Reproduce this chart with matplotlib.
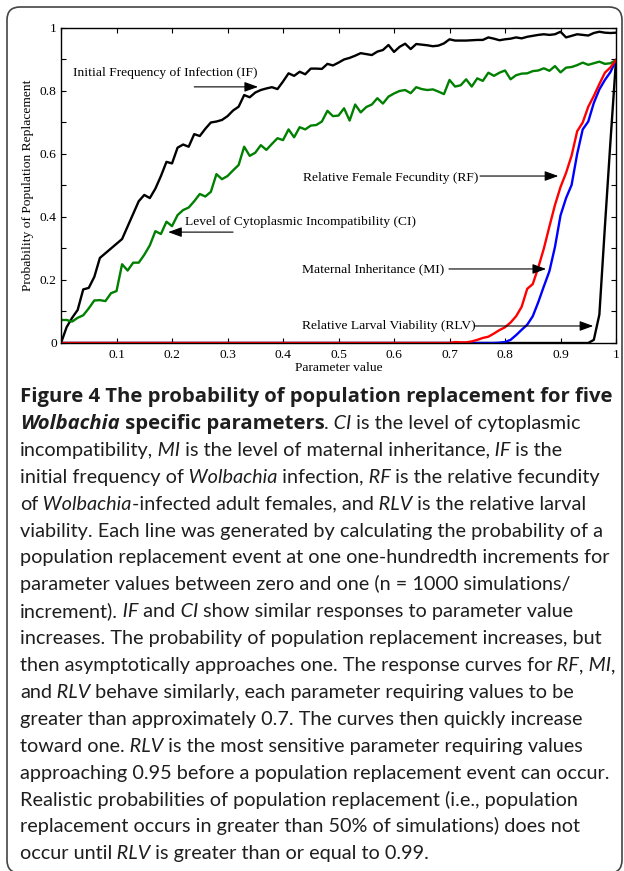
import matplotlib
matplotlib.use("Agg")
import matplotlib.pyplot as plt
from matplotlib.patches import FancyBboxPatch
from matplotlib.transforms import IdentityTransform
import numpy as np

# parameter values at one one-hundredth increments
param = np.round(np.arange(101) / 100, 2)

# Initial Frequency of Infection
if_prob = [0.00, 0.05, 0.08, 0.105, 0.17, 0.175, 0.21, 0.27, 0.285, 0.30,
           0.315, 0.33, 0.37, 0.41, 0.45, 0.47, 0.46, 0.49, 0.53, 0.575,
           0.57, 0.62, 0.63, 0.623, 0.663, 0.657, 0.68, 0.70, 0.703, 0.708,
           0.72, 0.738, 0.75, 0.787, 0.78, 0.795, 0.803, 0.808, 0.812, 0.806,
           0.83, 0.856, 0.848, 0.861, 0.853, 0.871, 0.871, 0.87, 0.886, 0.881,
           0.89, 0.90, 0.905, 0.912, 0.92, 0.917, 0.914, 0.925, 0.93, 0.946,
           0.924, 0.94, 0.95, 0.933, 0.949, 0.947, 0.945, 0.942, 0.944, 0.951,
           0.964, 0.96, 0.96, 0.96, 0.961, 0.962, 0.962, 0.97, 0.966, 0.961,
           0.964, 0.966, 0.97, 0.967, 0.972, 0.975, 0.978, 0.98, 0.978, 0.98,
           0.988, 0.97, 0.975, 0.98, 0.978, 0.976, 0.984, 0.988, 0.985, 0.984,
           0.985]

# Level of Cytoplasmic Incompatibility
ci_prob = [0.073, 0.073, 0.068, 0.08, 0.088, 0.11, 0.135, 0.136, 0.133, 0.158,
           0.165, 0.25, 0.23, 0.255, 0.255, 0.28, 0.31, 0.355, 0.346, 0.385,
           0.371, 0.406, 0.422, 0.43, 0.45, 0.473, 0.465, 0.48, 0.536, 0.52,
           0.53, 0.548, 0.565, 0.623, 0.594, 0.604, 0.628, 0.613, 0.632, 0.65,
           0.644, 0.678, 0.653, 0.685, 0.678, 0.69, 0.692, 0.703, 0.737, 0.72,
           0.722, 0.745, 0.706, 0.757, 0.732, 0.749, 0.757, 0.777, 0.76, 0.782,
           0.792, 0.80, 0.803, 0.793, 0.812, 0.806, 0.803, 0.805, 0.798, 0.79,
           0.835, 0.814, 0.818, 0.837, 0.814, 0.84, 0.832, 0.858, 0.848, 0.858,
           0.865, 0.837, 0.85, 0.855, 0.856, 0.863, 0.865, 0.872, 0.864, 0.879,
           0.859, 0.874, 0.876, 0.882, 0.89, 0.883, 0.888, 0.893, 0.886, 0.888,
           0.898]

# Relative Female Fecundity: zero up to 0.70
rf_prob = [0.0] * 71 + [0.003, 0.002, 0.002, 0.005, 0.01, 0.016, 0.02, 0.03, 0.041, 0.05,
                        0.065, 0.085, 0.115, 0.172, 0.187, 0.24, 0.30, 0.37, 0.438, 0.495,
                        0.54, 0.595, 0.672, 0.70, 0.75, 0.784, 0.822, 0.858, 0.875, 0.898]

# Maternal Inheritance: zero up to 0.78
mi_prob = [0.0] * 79 + [0.001, 0.003, 0.01, 0.025, 0.042, 0.058, 0.085, 0.13, 0.18, 0.228,
                        0.305, 0.405, 0.46, 0.502, 0.60, 0.678, 0.703, 0.762, 0.805, 0.835,
                        0.86, 0.898]

# Relative Larval Viability: zero up to 0.95
rlv_prob = [0.0] * 96 + [0.01, 0.09, 0.37, 0.64, 0.898]

xtick_vals = [0, 0.1, 0.2, 0.3, 0.4, 0.5, 0.6, 0.7, 0.8, 0.9, 1]
xtick_labels = ["", "0.1", "0.2", "0.3", "0.4", "0.5", "0.6", "0.7", "0.8", "0.9", "1"]
ytick_vals = [0, 0.1, 0.2, 0.3, 0.4, 0.5, 0.6, 0.7, 0.8, 0.9, 1]
ytick_labels = ["0", "", "0.2", "", "0.4", "", "0.6", "", "0.8", "", "1"]

# caption lines as (text, style) pieces: r regular, i italic, b bold, bi bold italic
caption = [
    [("Figure 4 The probability of population replacement for five", "b")],
    [("Wolbachia", "bi"), (" specific parameters", "b"), (".", "r"), (" CI", "i"),
     (" is the level of cytoplasmic", "r")],
    [("incompatibility,", "r"), (" MI", "i"), (" is the level of maternal inheritance,", "r"),
     (" IF", "i"), (" is the", "r")],
    [("initial frequency of", "r"), (" Wolbachia", "i"), (" infection,", "r"), (" RF", "i"),
     (" is the relative fecundity", "r")],
    [("of", "r"), (" Wolbachia", "i"), ("-infected adult females, and", "r"), (" RLV", "i"),
     (" is the relative larval", "r")],
    [("viability. Each line was generated by calculating the probability of a", "r")],
    [("population replacement event at one one-hundredth increments for", "r")],
    [("parameter values between zero and one (n = 1000 simulations/", "r")],
    [("increment).", "r"), (" IF", "i"), (" and", "r"), (" CI", "i"),
     (" show similar responses to parameter value", "r")],
    [("increases. The probability of population replacement increases, but", "r")],
    [("then asymptotically approaches one. The response curves for", "r"), (" RF", "i"),
     (",", "r"), (" MI", "i"), (",", "r")],
    [("and", "r"), (" RLV", "i"), (" behave similarly, each parameter requiring values to be", "r")],
    [("greater than approximately 0.7. The curves then quickly increase", "r")],
    [("toward one.", "r"), (" RLV", "i"), (" is the most sensitive parameter requiring values", "r")],
    [("approaching 0.95 before a population replacement event can occur.", "r")],
    [("Realistic probabilities of population replacement (i.e., population", "r")],
    [("replacement occurs in greater than 50% of simulations) does not", "r")],
    [("occur until", "r"), (" RLV", "i"), (" is greater than or equal to 0.99.", "r")],
]

plt.rcParams["font.family"] = ["Liberation Serif", "DejaVu Serif"]

fig = plt.figure(figsize=(6.24, 8.71), dpi=100)
fig.patch.set_facecolor("white")

# rounded frame around figure + caption
frame = FancyBboxPatch((0.07, -0.02), 6.15, 8.66, boxstyle="round,pad=0,rounding_size=0.13",
                       transform=fig.dpi_scale_trans, facecolor="none",
                       edgecolor="#444444", linewidth=1.2)
fig.patches.append(frame)

ax = fig.add_axes([0.0978, 0.6062, 0.8894, 0.3617])
lw = 1.7
ax.plot(param, if_prob, color="black", lw=lw)
ax.plot(param, ci_prob, color="#008000", lw=lw)
ax.plot(param, rlv_prob, color="black", lw=lw)
ax.plot(param, mi_prob, color="#0000ff", lw=lw)
ax.plot(param, rf_prob, color="#ff0000", lw=lw)

ax.set_xlim(0, 1)
ax.set_ylim(0, 1)
ax.set_xticks(xtick_vals)
ax.set_xticklabels(xtick_labels)
ax.set_yticks(ytick_vals)
ax.set_yticklabels(ytick_labels)
ax.tick_params(direction="in", top=True, right=True, length=3.6, width=0.8,
               labelsize=9.7, pad=3)
ax.tick_params(axis="x", pad=4)
for sp in ax.spines.values():
    sp.set_linewidth(1.0)

ax.set_xlabel("Parameter value", fontsize=9.7, labelpad=1)
ax.set_ylabel("Probability of Population Replacement", fontsize=9.7, labelpad=4)

# curve labels with arrows
arrow = dict(arrowstyle="-|>,head_length=0.55,head_width=0.2", color="black",
             lw=0.8, mutation_scale=15, shrinkA=0, shrinkB=0)
labels = [
    ("Initial Frequency of Infection (IF)", (0.022, 0.857), (0.240, 0.813), (0.355, 0.813)),
    ("Relative Female Fecundity (RF)", (0.436, 0.524), (0.755, 0.530), (0.896, 0.530)),
    ("Level of Cytoplasmic Incompatibility (CI)", (0.223, 0.384), (0.310, 0.352), (0.193, 0.352)),
    ("Maternal Inheritance (MI)", (0.434, 0.235), (0.699, 0.235), (0.874, 0.235)),
    ("Relative Larval Viability (RLV)", (0.434, 0.054), (0.746, 0.054), (0.959, 0.054)),
]
for name, txt_pos, tail, head in labels:
    ax.text(txt_pos[0], txt_pos[1], name, fontsize=9.7, ha="left", va="center")
    ax.annotate("", xy=head, xytext=tail, arrowprops=arrow)

# caption, placed piece by piece in pixel coordinates
renderer = fig.canvas.get_renderer()
styles = {"r": ("Lato", 14.3, "normal", "normal"),
          "i": ("Lato", 14.3, "italic", "normal"),
          "b": ("Open Sans", 14.6, "normal", "bold"),
          "bi": ("Open Sans", 14.6, "italic", "bold")}
for i, line in enumerate(caption):
    x = 20
    y = 871 - (402 + i * 26.9)
    for text, st in line:
        family, size, style, weight = styles[st]
        t = fig.text(x, y, text, transform=IdentityTransform(), family=family,
                     size=size, style=style, weight=weight, color="#1e1e1e",
                     ha="left", va="baseline")
        x = t.get_window_extent(renderer).x1

fig.savefig("out.png", dpi=100, facecolor="white")
